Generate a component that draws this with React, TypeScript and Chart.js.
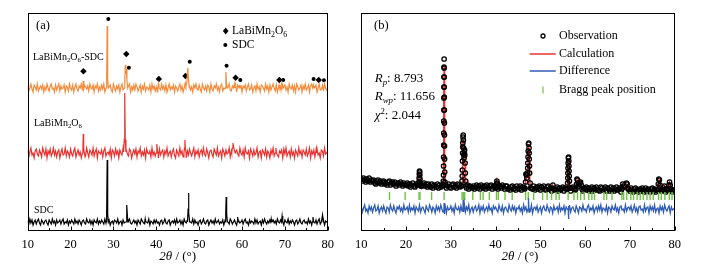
import React, { useEffect, useRef } from 'react';
import { Chart, registerables } from 'chart.js';

Chart.register(...registerables);

const FONT = '"Liberation Serif", "Times New Roman", serif';
Chart.defaults.font.family = FONT;

// ---------- shared axis ----------
const ANGLE_MIN = 10;
const ANGLE_MAX = 80;
const GRID_STEP = 0.25;
const minorTicks = [15, 25, 35, 45, 55, 65, 75];
const majorTicks = [10, 20, 30, 40, 50, 60, 70, 80];

// ---------- panel (a): baseline noise on a 0.25° grid ----------
const sdcNoise = [
  1,-2,3,-1,2,-3,0,2,-2,1,3,-1,-3,2,0,-2,1,2,-1,-3,
  2,0,-2,3,-1,1,-3,2,-1,0,2,-2,1,3,-2,0,-1,2,-3,1,
  -1,2,0,-2,3,-1,1,-2,2,0,-3,1,2,-1,-2,3,0,-1,2,-2,
  1,-3,2,0,-1,3,-2,1,-1,2,0,-2,3,-1,1,-2,2,-3,0,1,
  -2,2,1,-1,3,-2,0,1,-3,2,-1,0,2,-2,1,3,-1,-2,0,2,
  -1,1,-3,2,0,-2,3,1,-1,-2,2,0,-1,3,-3,1,0,-2,2,-1,
  2,-1,0,-3,1,2,-2,0,3,-1,-2,1,2,-3,0,1,-1,2,-2,3,
  -1,0,2,-2,1,-3,3,0,-1,2,-2,1,0,-1,3,-2,2,-1,0,-3,
  1,2,-2,0,3,-1,-2,1,2,-3,0,2,-1,1,-2,3,-1,0,2,-2,
  0,-1,2,-3,1,2,-1,0,-2,3,1,-2,0,2,-1,-3,2,1,-1,0,
  2,-2,1,3,-1,0,-3,2,-1,1,0,-2,3,-1,2,-2,0,1,-3,2,
  -1,3,0,-2,1,-1,2,-3,0,2,-1,1,-2,3,0,-1,2,-2,1,-3,
  2,0,-1,3,-2,1,-1,2,0,-3,1,2,-2,0,3,-1,-2,1,2,-1,
  0,-2,3,-1,1,-3,2,0,-1,2,-2,1,3,-2,0,-1,2,-3,1,0,
  1,
];
const lbmNoise = [
  3,-4,1,5,-2,0,-5,2,4,-1,-3,3,0,-4,5,1,-2,4,-5,2,
  -1,4,-3,0,5,-2,2,-4,1,3,-5,0,4,-2,-1,5,-3,2,0,-4,
  4,-1,-3,2,5,-4,0,3,-2,1,-5,4,2,-1,-3,5,0,-4,3,1,
  -2,5,-3,1,4,-5,2,0,-1,3,-4,2,5,-3,0,1,-2,4,-5,3,
  1,-3,4,-1,2,-5,3,0,-2,5,-4,1,3,-1,-3,4,2,-5,0,3,
  -1,4,-4,2,0,5,-3,1,-2,3,-5,4,0,-1,2,-4,5,-2,1,-3,
  3,0,-5,4,-2,1,3,-4,2,-1,5,-3,0,2,-4,1,4,-2,-5,3,
  0,-3,5,-1,2,-4,3,1,-5,2,-2,4,0,-3,1,5,-4,2,-1,3,
  -4,1,3,-2,5,-1,-3,4,0,-5,2,3,-1,-4,4,1,-2,5,-3,0,
  2,-5,4,1,-3,3,-1,0,5,-4,2,-2,4,-5,1,3,-1,-3,5,0,
  -2,3,-4,5,0,-1,2,-5,4,1,-3,3,-2,0,5,-4,1,2,-5,3,
  1,-2,4,-4,2,0,-5,3,-1,5,-3,1,4,-2,-4,2,0,3,-5,4,
  -1,5,-3,0,2,-4,4,-2,1,-5,3,0,-3,5,-1,2,-4,3,1,-2,
  4,-3,0,5,-5,2,-1,3,-4,1,4,-2,0,-5,3,2,-3,5,-1,0,
  2,
];
const compNoise = [
  2,-3,0,4,-1,-4,3,1,-2,4,-3,0,2,-1,3,-4,1,-2,4,0,
  -3,2,4,-1,0,-4,3,-2,1,4,-3,2,-1,0,3,-4,2,1,-3,4,
  0,-2,3,-4,1,4,-1,-3,2,0,4,-2,-4,3,1,-1,2,-3,4,0,
  -1,3,-4,2,0,4,-3,1,-2,3,-1,4,-4,0,2,-3,1,3,-2,-4,
  4,0,-3,2,-1,3,-4,1,4,-2,0,3,-3,-1,2,4,-4,1,-2,3,
  -2,4,1,-3,0,3,-4,2,-1,4,-3,1,0,-2,3,-4,4,-1,2,-3,
  1,-4,3,0,-2,4,-1,2,-3,3,-4,0,4,-2,1,-1,3,-4,2,0,
  -3,1,4,-2,2,-4,0,3,-1,4,-3,2,-2,1,-4,3,0,4,-1,-2,
  3,-1,-4,4,0,-2,2,-3,3,1,-4,4,-1,-3,2,0,4,-2,1,-4,
  2,4,-3,0,-1,3,-4,1,4,-2,-3,2,0,4,-1,-4,3,1,-2,3,
  -4,2,0,3,-3,1,4,-2,-1,3,-4,0,2,-3,4,-1,1,-4,3,2,
  0,-3,4,-1,2,-4,3,-2,1,4,0,-3,3,-4,2,1,-1,4,-3,0,
  3,-2,1,-4,4,0,-1,3,-3,2,-4,4,1,-2,0,3,-4,2,-1,4,
  -2,0,3,-4,2,4,-1,-3,1,3,-4,0,4,-2,-1,2,-3,4,0,-2,
  1,
];

// ---------- panel (a): peak profiles [2θ, intensity above baseline] ----------
const sdcPeaks = [
  [[28.28,0],[28.42,10],[28.54,62],[28.66,8],[28.82,0]],
  [[32.95,0],[33.06,7],[33.16,17],[33.28,5],[33.42,0]],
  [[37.3,0],[37.4,3],[37.5,0]],
  [[47.28,0],[47.4,11],[47.5,29],[47.62,9],[47.78,0]],
  [[56.08,0],[56.2,9],[56.3,25],[56.42,8],[56.58,0]],
  [[58.85,0],[58.98,5],[59.1,0]],
  [[66.7,0],[66.8,3],[66.9,0]],
  [[69.2,0],[69.35,6],[69.5,0]],
  [[76.4,0],[76.55,5],[76.7,0]],
  [[78.6,0],[78.78,7],[78.95,0]],
];
const lbmPeaks = [
  [[22.75,0],[22.88,5],[22.96,19],[23.06,5],[23.2,0]],
  [[32.38,1],[32.53,14],[32.64,60],[32.76,13],[32.92,1]],
  [[39.95,0],[40.08,4],[40.16,9],[40.26,3],[40.4,0]],
  [[46.45,0],[46.58,5],[46.68,13],[46.8,4],[46.95,0]],
  [[57.6,0],[57.75,5],[57.88,10],[58.0,7],[58.2,3],[58.4,0]],
  [[67.75,0],[67.9,5],[68.05,0]],
  [[77.15,0],[77.3,4],[77.45,0]],
];
const compPeaks = [
  [[22.85,0],[22.96,7],[23.1,0]],
  [[28.28,0],[28.43,11],[28.54,62],[28.66,9],[28.82,0]],
  [[32.5,0],[32.65,9],[32.78,23],[32.9,14],[33.02,19],[33.15,7],[33.35,0]],
  [[40.35,0],[40.48,4],[40.6,0]],
  [[46.6,0],[46.75,5],[46.9,2],[47.15,6],[47.35,20],[47.5,9],[47.7,0]],
  [[56.1,0],[56.24,16],[56.38,4],[56.55,0]],
  [[58.3,0],[58.45,4],[58.6,0]],
  [[59.3,0],[59.42,3],[59.55,0]],
  [[68.5,0],[68.65,3],[68.8,0]],
  [[69.3,0],[69.45,3],[69.6,0]],
  [[76.5,0],[76.65,3],[76.8,0]],
  [[78.6,0],[78.75,3],[78.9,0]],
];
// phase markers above the composite pattern [2θ, height]
const lbmMarks = [[23.0,159.7],[33.0,177],[40.6,152],[46.8,155],[58.5,153.3],[68.7,151],[77.9,151]];
const sdcMarks = [[28.8,212],[33.6,163.3],[47.8,169.3],[56.4,165.3],[59.6,151],[69.6,151],[76.7,152],[79.1,150.7]];

// ---------- panel (b): observed pattern on a 0.25° grid ----------
const obsGrid = [
  52,50,53,51,49,52,50,53,49,51,50,51,48,47,49,51,48,50,47,49,
  50,47,48,46,49,50,46,48,49,47,49,45,47,48,46,49,47,45,48,46,
  46,48,45,47,44,46,48,45,44,47,46,48,44,47,45,46,48,45,47,44,
  47,45,44,47,43,46,45,44,47,43,46,44,45,47,44,46,43,45,47,44,
  43,46,47,44,45,43,47,46,44,45,46,42,45,44,43,46,42,45,44,43,
  45,42,44,46,43,45,42,46,44,43,45,42,46,44,43,45,46,42,44,45,
  43,46,42,44,45,43,46,44,42,45,45,42,43,41,44,45,42,43,41,45,
  43,42,45,41,44,43,42,45,42,41,44,45,43,42,45,41,43,44,42,45,
  41,44,43,45,42,41,44,45,42,43,40,44,43,41,42,44,40,43,41,42,
  44,40,43,42,41,44,41,40,43,44,42,41,44,40,42,43,41,44,40,43,
  42,44,41,43,40,42,44,40,43,41,44,42,41,40,44,43,41,42,44,40,
  43,42,40,44,41,43,40,42,44,41,42,43,39,41,40,43,42,39,41,42,
  40,43,41,39,42,43,40,41,39,42,40,43,41,39,43,40,42,41,39,42,
  43,40,42,39,41,43,39,42,40,41,43,40,39,42,41,43,40,42,39,41,
  41,
];
const obsPeaks = [
  [[22.8,46],[22.86,49],[22.91,53],[22.95,57],[23.0,60],[23.04,59],[23.08,56],[23.12,52],[23.2,47],[23.3,45]],
  [[28.25,46],[28.32,50],[28.36,56],[28.38,65],[28.39,74],[28.41,86],[28.42,98],[28.43,110],[28.44,121],[28.45,133],[28.46,144],[28.47,154],[28.48,164],[28.5,172],[28.51,163],[28.52,154],[28.53,144],[28.54,134],[28.55,121],[28.56,108],[28.58,96],[28.59,85],[28.61,72],[28.63,59],[28.68,49],[28.75,46]],
  [[32.4,45],[32.5,50],[32.54,55],[32.57,61],[32.6,70],[32.63,78],[32.66,84],[32.68,88],[32.72,94],[32.76,96],[32.8,91],[32.85,83],[32.9,76],[32.96,73],[33.02,78],[33.07,81],[33.12,76],[33.18,68],[33.24,58],[33.32,50],[33.42,45]],
  [[40.1,44],[40.2,47],[40.28,50],[40.36,48],[40.46,44]],
  [[46.55,43],[46.68,49],[46.78,57],[46.88,56],[46.98,53],[47.1,58],[47.16,63],[47.2,68],[47.24,74],[47.28,80],[47.34,87],[47.4,88],[47.46,83],[47.49,78],[47.52,72],[47.56,65],[47.6,58],[47.7,48],[47.8,43]],
  [[52.6,43],[52.8,46],[53.0,42]],
  [[56.0,42],[56.08,48],[56.11,53],[56.14,58],[56.17,63],[56.2,68],[56.25,73],[56.3,74],[56.35,70],[56.38,65],[56.41,60],[56.44,55],[56.48,50],[56.58,43]],
  [[57.95,42],[58.08,47],[58.18,52],[58.3,51],[58.45,47],[58.62,45],[58.82,48],[58.98,49],[59.12,46],[59.3,42]],
  [[68.2,42],[68.38,47],[68.55,45],[68.8,44],[69.2,48],[69.38,47],[69.6,42]],
  [[76.2,41],[76.33,47],[76.45,52],[76.58,51],[76.72,46],[76.9,41]],
  [[77.55,41],[77.7,45],[77.85,41]],
  [[78.55,41],[78.7,46],[78.85,49],[79.0,46],[79.2,41]],
];
// calculated profile: background points and peaks [2θ, intensity]
const calcBackground = [
  [10,50],[11,49.3],[12,48.6],[13,48],[15,47],[17.5,46.2],[20,45.6],[25,45],[30,44.4],[35,44],
  [40,43.6],[45,43.2],[50,42.6],[55,42.2],[60,42],[65,41.8],[70,41.5],[75,41.2],[80,41],
];
const calcPeaks = [
  [[22.8,45.5],[22.9,50],[22.98,57],[23.04,58],[23.1,54],[23.2,47],[23.3,45.5]],
  [[28.2,45],[28.3,48],[28.38,72],[28.44,130],[28.5,166],[28.56,128],[28.63,70],[28.72,48],[28.82,45]],
  [[32.4,44.5],[32.5,49],[32.6,64],[32.68,85],[32.75,91],[32.82,86],[32.92,75],[33.02,78],[33.1,79],[33.18,68],[33.28,52],[33.42,44.5]],
  [[40.1,43.5],[40.22,47],[40.3,49],[40.38,47],[40.5,43.5]],
  [[46.55,43],[46.7,50],[46.8,56],[46.92,53],[47.05,54],[47.18,62],[47.28,78],[47.36,87],[47.44,82],[47.52,66],[47.62,52],[47.75,43]],
  [[52.6,42.5],[52.8,45],[53.0,42.5]],
  [[56.0,42],[56.1,48],[56.18,64],[56.26,72],[56.34,68],[56.42,54],[56.5,46],[56.62,42]],
  [[57.95,42],[58.1,47],[58.22,51],[58.35,49],[58.5,45],[58.7,45],[58.9,48],[59.02,48],[59.15,44],[59.3,42]],
  [[68.2,41.5],[68.38,46],[68.55,44],[68.8,43],[69.2,47],[69.38,46],[69.6,41.5]],
  [[76.2,41],[76.35,46],[76.5,51],[76.65,49],[76.8,44],[76.95,41]],
  [[77.55,41],[77.7,44],[77.85,41]],
  [[78.55,41],[78.7,45],[78.85,48],[79.0,45],[79.2,41]],
];
// difference curve on a 0.25° grid, plus spikes
const diffGrid = [
  2,-3,1,4,-2,0,-4,3,-1,2,-3,1,4,-2,-1,3,-4,0,2,-2,
  3,-1,-4,2,1,-3,4,0,-2,3,-1,-4,2,0,3,-2,1,-3,4,-1,
  0,2,-3,4,-2,1,-1,3,-4,2,0,-2,4,-3,1,2,-1,-4,3,0,
  -2,4,1,-3,2,0,-4,3,-1,2,-2,4,0,-3,1,3,-4,2,-1,0,
  3,-2,1,-4,4,0,-1,2,-3,3,-2,1,6,-3,2,-1,4,-4,0,2,
  -3,1,3,-2,0,4,-4,2,-1,3,-3,0,2,-2,4,-1,1,-4,3,0,
  2,-1,-3,4,0,-2,3,-4,1,2,-1,-3,4,0,-2,3,-1,2,-4,1,
  0,3,-2,1,-4,4,-1,2,-3,0,3,-2,4,-4,1,2,-1,3,-3,0,
  2,-4,1,3,-1,-2,4,0,-3,2,1,-4,3,-1,0,2,-3,4,-2,1,
  -1,3,-4,2,0,-2,4,-3,1,2,-1,-3,3,0,-4,2,1,-2,4,-1,
  0,-3,2,4,-2,1,-1,3,-4,0,2,-2,3,-1,4,-3,1,0,-2,3,
  -4,2,1,-3,3,0,-1,4,-2,1,-4,2,3,-1,0,-3,4,-2,1,2,
  -1,3,-3,0,4,-2,1,-4,2,3,-1,0,-3,4,-2,1,2,-4,3,-1,
  2,-2,4,-3,0,1,-4,3,-1,2,-3,4,0,-2,1,3,-4,2,-1,0,
  1,
];
const diffPeaks = [
  [[28.45,0],[28.5,6],[28.55,-5],[28.62,0]],
  [[32.7,0],[32.76,9],[32.84,-3],[32.92,0]],
  [[47.3,0],[47.38,11],[47.46,-3],[47.54,0]],
  [[56.2,0],[56.28,-10],[56.36,3],[56.44,0]],
];
const braggPositions = [
  16.3,19.8,22.9,23.1,25.7,28.5,32.5,32.8,33.1,34.9,36.6,37.2,38.6,40.2,40.6,42.1,43.7,
  46.7,47.3,48.5,50.5,51.5,52.5,53.5,54.2,56.2,57.5,58.3,59.0,59.8,60.8,61.5,62.1,64.2,
  64.8,66.0,68.2,68.6,69.3,70.2,70.8,71.6,72.3,73.0,73.8,74.5,75.2,76.4,77.0,77.8,78.8,79.4,
];

// ---------- display constants ----------
const OFFSET_SDC = 9;
const OFFSET_LBM = 78;
const OFFSET_COMP = 143;
const DIFF_OFFSET = 22;
const BRAGG_ROW = 35;
const Y_MAX = 218.3;

const ORANGE = '#f68b3b';
const RED = '#ea3330';
const BLUE = '#2f5cb6';
const GREEN = '#72c145';

type Pt = { x: number; y: number };

function inWindow(x: number, peaks: number[][][]) {
  return peaks.some((p) => x >= p[0][0] && x <= p[p.length - 1][0]);
}

function fromGrid(grid: number[], peaks: number[][][], offset: number): Pt[] {
  const pts: Pt[] = [];
  grid.forEach((v, i) => {
    const x = ANGLE_MIN + i * GRID_STEP;
    if (!inWindow(x, peaks)) pts.push({ x, y: v + offset });
  });
  peaks.forEach((p) => p.forEach(([x, y]) => pts.push({ x, y: y + offset })));
  return pts.sort((a, b) => a.x - b.x);
}

function fromPairs(pairs: number[][], peaks: number[][][]): Pt[] {
  const pts: Pt[] = [];
  pairs.forEach(([x, y]) => { if (!inWindow(x, peaks)) pts.push({ x, y }); });
  peaks.forEach((p) => p.forEach(([x, y]) => pts.push({ x, y })));
  return pts.sort((a, b) => a.x - b.x);
}

type Part = [string, string?];
function drawRich(ctx: CanvasRenderingContext2D, x: number, y: number, parts: Part[], size: number, align: 'left' | 'center' = 'left') {
  const segs = parts.map(([t, s = '']) => {
    const sub = s.includes('sub');
    const sup = s.includes('sup');
    const it = s.startsWith('i');
    const fs = sub || sup ? size * 0.68 : size;
    const font = `${it ? 'italic ' : ''}${fs}px ${FONT}`;
    ctx.font = font;
    return { t, font, w: ctx.measureText(t).width, dy: sub ? size * 0.32 : sup ? -size * 0.33 : 0 };
  });
  const total = segs.reduce((a, s) => a + s.w, 0);
  let cx = align === 'center' ? x - total / 2 : x;
  ctx.textBaseline = 'middle';
  ctx.fillStyle = '#000';
  segs.forEach((s) => { ctx.font = s.font; ctx.fillText(s.t, cx, y + s.dy); cx += s.w; });
}

const framePlugin = {
  id: 'frame',
  afterDraw(chart: any) {
    const { ctx, chartArea, scales } = chart;
    const l = Math.round(chartArea.left) + 0.5;
    const r = Math.round(chartArea.right) - 0.5;
    const t = Math.round(chartArea.top) + 0.5;
    const b = Math.round(chartArea.bottom) - 0.5;
    ctx.save();
    ctx.strokeStyle = '#000';
    ctx.lineWidth = 1;
    ctx.strokeRect(l, t, r - l, b - t);
    const tick = (v: number, len: number) => {
      const px = Math.round(scales.x.getPixelForValue(v)) + 0.5;
      ctx.beginPath(); ctx.moveTo(px, b); ctx.lineTo(px, b - len); ctx.stroke();
    };
    majorTicks.forEach((v) => tick(v, 4));
    minorTicks.forEach((v) => tick(v, 2.5));
    ctx.restore();
  },
};

const LBM: Part[] = [['LaBiMn'], ['2', 'sub'], ['O'], ['6', 'sub']];
const TITLE: Part[] = [['2θ', 'i'], [' / (°)']];

const textA = {
  id: 'textA',
  afterDraw(chart: any) {
    const ctx = chart.ctx as CanvasRenderingContext2D;
    const ca = chart.chartArea;
    ctx.save();
    drawRich(ctx, 36, 26, [['(a)']], 12.5);
    drawRich(ctx, 33, 57, [...LBM, ['-SDC']], 10);
    drawRich(ctx, 34, 123, LBM, 10);
    drawRich(ctx, 34, 210, [['SDC']], 10);
    // legend
    ctx.fillStyle = '#000';
    ctx.beginPath();
    ctx.moveTo(225.7, 27.6); ctx.lineTo(228.5, 31); ctx.lineTo(225.7, 34.4); ctx.lineTo(222.9, 31); ctx.closePath(); ctx.fill();
    ctx.beginPath(); ctx.arc(225.3, 45, 2, 0, Math.PI * 2); ctx.fill();
    drawRich(ctx, 232, 31, LBM, 11.5);
    drawRich(ctx, 232, 45, [['SDC']], 11.5);
    drawRich(ctx, (ca.left + ca.right) / 2, 257, TITLE, 13, 'center');
    ctx.restore();
  },
};

const textB = {
  id: 'textB',
  afterDraw(chart: any) {
    const ctx = chart.ctx as CanvasRenderingContext2D;
    const ca = chart.chartArea;
    ctx.save();
    drawRich(ctx, 34, 26, [['(b)']], 12.5);
    drawRich(ctx, 34.7, 79, [['R', 'i'], ['p', 'isub'], [': 8.793']], 13);
    drawRich(ctx, 34.7, 97, [['R', 'i'], ['wp', 'isub'], [': 11.656']], 13);
    drawRich(ctx, 34.7, 115.7, [['χ', 'i'], ['2', 'sup'], [': 2.044']], 13);
    // legend
    ctx.strokeStyle = '#000'; ctx.lineWidth = 1.3;
    ctx.beginPath(); ctx.arc(203, 36, 2, 0, Math.PI * 2); ctx.stroke();
    ctx.lineWidth = 1.5;
    ctx.strokeStyle = RED; ctx.beginPath(); ctx.moveTo(189.7, 54); ctx.lineTo(215.7, 54); ctx.stroke();
    ctx.strokeStyle = BLUE; ctx.beginPath(); ctx.moveTo(189.7, 71); ctx.lineTo(215.7, 71); ctx.stroke();
    ctx.strokeStyle = GREEN; ctx.lineWidth = 1.2; ctx.beginPath(); ctx.moveTo(203, 86.5); ctx.lineTo(203, 93.5); ctx.stroke();
    drawRich(ctx, 219, 36, [['Observation']], 12);
    drawRich(ctx, 219, 54, [['Calculation']], 12);
    drawRich(ctx, 219, 71, [['Difference']], 12);
    drawRich(ctx, 219, 90, [['Bragg peak position']], 12);
    drawRich(ctx, (ca.left + ca.right) / 2 + 2, 257, TITLE, 13, 'center');
    ctx.restore();
  },
};

function xScale() {
  return {
    type: 'linear' as const,
    min: ANGLE_MIN,
    max: ANGLE_MAX,
    afterFit(s: any) { s.height = 40; },
    grid: { display: false, drawTicks: false },
    border: { display: false },
    ticks: { stepSize: 10, color: '#000', font: { size: 12.5, family: FONT }, padding: 6, maxRotation: 0, autoSkip: false },
  };
}

export default function App() {
  const refA = useRef<HTMLCanvasElement>(null);
  const refB = useRef<HTMLCanvasElement>(null);

  useEffect(() => {
    const line = (data: Pt[], color: string, width = 1.2) => ({
      data, borderColor: color, borderWidth: width, pointRadius: 0, tension: 0, fill: false,
    });
    const chartA = new Chart(refA.current!, {
      type: 'line',
      data: {
        datasets: [
          line(fromGrid(compNoise, compPeaks, OFFSET_COMP), ORANGE),
          line(fromGrid(lbmNoise, lbmPeaks, OFFSET_LBM), RED),
          line(fromGrid(sdcNoise, sdcPeaks, OFFSET_SDC), '#000'),
          {
            data: lbmMarks.map(([x, y]) => ({ x, y })), showLine: false, pointStyle: 'rectRot',
            pointRadius: 3.2, backgroundColor: '#000', borderColor: '#000', pointBorderWidth: 0,
          } as any,
          {
            data: sdcMarks.map(([x, y]) => ({ x, y })), showLine: false, pointStyle: 'circle',
            pointRadius: 2, backgroundColor: '#000', borderColor: '#000', pointBorderWidth: 0,
          } as any,
        ],
      },
      options: {
        animation: false,
        responsive: false,
        events: [],
        layout: { padding: { left: 27.7, right: 8.3, top: 12.7, bottom: 0 } },
        plugins: { legend: { display: false }, tooltip: { enabled: false } },
        scales: { x: xScale() as any, y: { display: false, min: 0, max: Y_MAX } },
      },
      plugins: [framePlugin, textA],
    });

    const chartB = new Chart(refB.current!, {
      type: 'line',
      data: {
        datasets: [
          line(fromGrid(diffGrid, diffPeaks, DIFF_OFFSET), BLUE, 1.3),
          {
            data: braggPositions.map((x) => ({ x, y: BRAGG_ROW })), showLine: false, pointStyle: 'line',
            rotation: 90, pointRadius: 4, borderColor: GREEN, pointBorderWidth: 1.4,
          } as any,
          {
            data: fromGrid(obsGrid, obsPeaks, 0), showLine: false, pointStyle: 'circle', pointRadius: 2.2,
            pointBorderWidth: 1.3, borderColor: '#000', backgroundColor: 'rgba(0,0,0,0)',
          } as any,
          line(fromPairs(calcBackground, calcPeaks), RED, 1.5),
        ],
      },
      options: {
        animation: false,
        responsive: false,
        events: [],
        layout: { padding: { left: 21.3, right: 39.3, top: 12.7, bottom: 0 } },
        plugins: { legend: { display: false }, tooltip: { enabled: false } },
        scales: { x: xScale() as any, y: { display: false, min: 0, max: Y_MAX } },
      },
      plugins: [framePlugin, textB],
    });

    return () => { chartA.destroy(); chartB.destroy(); };
  }, []);

  return (
    <div style={{ position: 'fixed', left: 0, top: 0, width: 714, height: 271, background: '#fff' }}>
      <canvas ref={refA} width={340} height={271} style={{ position: 'absolute', left: 0, top: 0, display: 'block' }} />
      <canvas ref={refB} width={374} height={271} style={{ position: 'absolute', left: 340, top: 0, display: 'block' }} />
    </div>
  );
}
